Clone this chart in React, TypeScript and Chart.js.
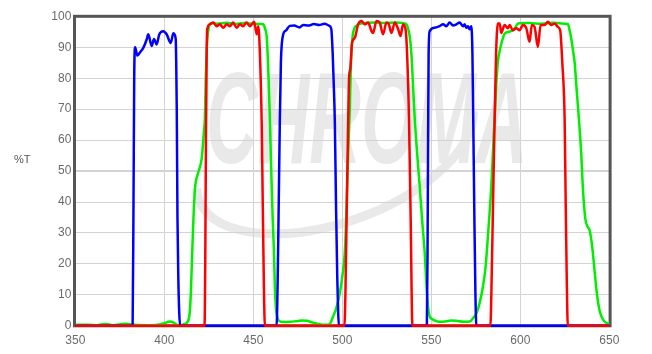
import React, { useEffect, useRef } from "react";
import { Chart, registerables } from "chart.js";

Chart.register(...registerables);

// Wavelength (nm) / transmission (%T) samples
const bluePoints: [number, number][] = [
  [350, 0], [382.2, 0], [382.7, 40], [383.1, 80], [383.6, 90], [384.9, 87.3], [386.5, 88.5],
  [388.2, 89.8], [390.1, 92.5], [391.0, 94.2], [392.9, 90.4], [394.2, 92.7], [395.7, 90.9],
  [397.2, 94.2], [399.4, 95.2], [401.3, 94.2], [403.6, 91.4], [405.1, 94.5], [406.4, 92.7],
  [406.7, 85], [407.0, 70], [407.4, 35], [407.9, 15], [408.4, 4], [408.9, 0],
  [463.1, 0], [463.7, 15], [464.3, 40], [464.9, 66], [465.5, 85], [466.0, 91], [466.8, 94.2],
  [468.5, 95.5], [470.5, 96.9], [473, 97], [476, 96.4], [478, 97.2], [481, 97], [484, 97.5],
  [487, 97.2], [490, 97.6], [492.5, 97], [493.8, 96], [494.6, 88], [495.2, 78], [495.8, 66],
  [496.5, 38], [497.2, 15], [497.7, 4], [498.1, 0],
  [547.5, 0], [547.9, 25], [548.2, 60], [548.5, 88], [549.1, 95.2], [551.9, 96.3], [554.7, 96.8],
  [556.6, 97.4], [558.5, 96.8], [560.3, 98], [562.2, 97], [564.1, 97.4], [565.9, 98],
  [567.8, 96.8], [568.7, 97.4], [569.7, 96.3], [570.6, 96.8], [571.5, 95.8], [572.5, 96.8],
  [573.1, 88], [573.6, 65], [574.2, 35], [574.8, 10], [575.3, 0], [650, 0],
];

const redPoints: [number, number][] = [
  [350, 0], [422.6, 0], [423.0, 20], [423.4, 60], [423.8, 88], [424.1, 95.8], [425.6, 97.4],
  [427.5, 98], [429.4, 96.8], [431.3, 97.4], [433.1, 96.3], [435.0, 97.4], [436.9, 96.8],
  [438.7, 98], [440.6, 96.3], [442.5, 97.4], [444.3, 96.8], [446.2, 98], [448.1, 96.8],
  [450.5, 98.2], [451.9, 94.2], [452.8, 96.8], [453.7, 88], [454.7, 66], [455.3, 40],
  [455.9, 15], [456.5, 0],
  [501.2, 0], [501.8, 12], [502.5, 38], [503.3, 66], [503.8, 80], [504.5, 83], [505.5, 91.5],
  [507.0, 93], [508.9, 97.4], [510.8, 98.5], [512.6, 97.4], [514.5, 98], [516.4, 95.2],
  [517.3, 94.6], [519.2, 98.5], [521.0, 98], [522.9, 94.2], [524.8, 98], [526.1, 97.5],
  [527.6, 94.6], [529.5, 98], [531.3, 96], [532.7, 93.6], [534.1, 97.4], [535.6, 95.5],
  [536.4, 88], [537.5, 66], [538.4, 35], [539.4, 0],
  [583.2, 0], [583.9, 15], [584.7, 40], [585.6, 67], [586.4, 88], [587.4, 97.7], [588.4, 97.7],
  [589.3, 94.6], [591.2, 97.2], [593.0, 96.1], [594.0, 97.2], [595.8, 95.5], [597.8, 96.1],
  [599.6, 95.5], [601.5, 97.2], [603.4, 96.1], [605.2, 91.8], [606.5, 97.2], [608.0, 96.6],
  [609.9, 90.1], [611.4, 97.2], [613.6, 97.2], [615.5, 98.2], [617.4, 97.2], [619.3, 97.7],
  [621.1, 96.6], [622.4, 95.5], [623.6, 85], [624.9, 67], [625.5, 40], [626.1, 15],
  [626.7, 0], [650, 0],
];

const greenPoints: [number, number][] = [
  [350, 0.3], [357, 0.3], [362, 0.2], [367, 0.6], [371, 0.2], [378, 0.7], [383, 0.3],
  [392, 0.2], [398, 0.5], [401, 1.0], [403, 1.4], [405, 1.1], [407, 0.4], [409, 0.2],
  [411, 0.5], [413.3, 1.5], [414.4, 5], [415.0, 12], [415.7, 24], [416.4, 35], [417.2, 44],
  [419.1, 49.5], [421.0, 54], [422.3, 63], [422.8, 67], [423.3, 80], [423.9, 90], [424.7, 95.5],
  [426.6, 97.8], [430, 97.6], [435, 97.9], [440, 97.5], [445, 97.8], [450, 97.6], [455.6, 97.4],
  [456.6, 96], [457.5, 93.5], [458.2, 86], [458.8, 76], [459.3, 67], [460.0, 52], [460.8, 36],
  [461.6, 24], [462.1, 13], [462.7, 6], [463.4, 3], [464.5, 1.6], [467, 1.2], [471, 1.3],
  [474, 1.5], [477, 1.7], [480, 1.6], [483, 1.1], [487, 0.5], [491, 0.3], [493, 0.6],
  [494.8, 3], [496.5, 5.5], [498.6, 10.6], [500, 16], [501.4, 23.6], [502.4, 38], [503.3, 56],
  [504.2, 70], [504.8, 84], [505.9, 94], [508, 97], [512, 97.8], [518, 98], [524, 97.8],
  [530, 98], [536.0, 97.5], [537.2, 95.5], [538.0, 93], [538.8, 88], [539.7, 78], [540.7, 67],
  [542.0, 56], [543.5, 45], [545, 33], [546.3, 23.6], [547.3, 13], [548.2, 6], [549.1, 3],
  [551, 2], [554, 1.3], [558, 1.4], [561, 1.7], [564, 1.6], [568, 1.3], [571.6, 1.4],
  [573.5, 2.5], [575.3, 4], [577, 7], [579, 12.6], [580.5, 19], [581.8, 28.8], [582.8, 37],
  [583.7, 45], [584.4, 53], [585, 61], [585.6, 67], [586.5, 78], [587.4, 85.3], [588.5, 89],
  [589.5, 91.5], [591.2, 94.4], [593.5, 95], [595.8, 95.5], [597.3, 96.5], [598.7, 97.7],
  [605, 97.8], [612, 97.6], [618, 97.9], [623, 97.7], [626.7, 97.5], [627.7, 95.5],
  [628.6, 92.9], [629.6, 89], [630.5, 85.3], [631.7, 76], [632.9, 67], [634.2, 56],
  [635.1, 45], [635.8, 39], [636.6, 34.3], [637.8, 32], [638.9, 31], [639.7, 28.5],
  [640.4, 25.6], [641.7, 18], [643.0, 10.6], [644.5, 5], [645.8, 2.8], [647.3, 1.4], [650, 0.5],
];

const xMin = 350;
const xMax = 650;
const xStep = 50;
const yMin = 0;
const yMax = 100;
const yStep = 10;
const yAxisLabel = "%T";
const watermarkText = "CHROMA";

const FONT = '"Liberation Sans", Arial, Helvetica, sans-serif';

export default function App() {
  const ref = useRef<HTMLCanvasElement>(null);

  useEffect(() => {
    if (!ref.current) return;
    const toXY = (pts: [number, number][]) => pts.map(([x, y]) => ({ x, y }));
    const mk = (label: string, pts: [number, number][], color: string) => ({
      label,
      data: toXY(pts),
      borderColor: color,
      backgroundColor: color,
      borderWidth: 2.5,
      pointRadius: 0,
      fill: false,
      cubicInterpolationMode: "monotone" as const,
      clip: 6,
    });

    const decor = {
      id: "decor",
      beforeDraw(chart: any) {
        const { ctx } = chart;
        ctx.save();
        ctx.fillStyle = "#ffffff";
        ctx.fillRect(0, 0, chart.width, chart.height);
        // watermark
        ctx.fillStyle = "#e9e9e9";
        ctx.strokeStyle = "#e9e9e9";
        ctx.save();
        ctx.translate(206, 163);
        ctx.scale(0.55, 1);
        ctx.font = `italic bold 130px ${FONT}`;
        ctx.textBaseline = "alphabetic";
        ctx.fillText(watermarkText, 0, 0);
        ctx.restore();
        ctx.save();
        ctx.lineWidth = 9;
        ctx.translate(335, 150);
        ctx.rotate(-0.35);
        ctx.beginPath();
        ctx.ellipse(0, 0, 145, 72, 0, 0.05 * Math.PI, 1.05 * Math.PI);
        ctx.stroke();
        ctx.restore();
        ctx.restore();
      },
      beforeDatasetsDraw(chart: any) {
        const { ctx, chartArea: a } = chart;
        ctx.save();
        ctx.strokeStyle = "#555555";
        ctx.lineWidth = 3;
        ctx.strokeRect(a.left - 0.8, a.top, a.right - a.left + 1.6, a.bottom - a.top);
        ctx.restore();
      },
      afterDraw(chart: any) {
        const { ctx } = chart;
        ctx.save();
        ctx.fillStyle = "#555555";
        ctx.font = `11px ${FONT}`;
        ctx.textBaseline = "middle";
        ctx.textAlign = "left";
        ctx.fillText(yAxisLabel, 14, 160);
        ctx.restore();
      },
    };

    const tickColor = "#6a6a6a";
    const gridColor = "#d3d3d3";

    const chart = new Chart(ref.current, {
      type: "line",
      data: {
        datasets: [
          mk("Red", redPoints, "#ff0000"),
          mk("Blue", bluePoints, "#0000ff"),
          mk("Green", greenPoints, "#00ee00"),
        ],
      },
      options: {
        animation: false,
        responsive: false,
        devicePixelRatio: 1,
        layout: { padding: { left: 0, right: 42.7, top: 16.3, bottom: 0 } },
        plugins: { legend: { display: false }, tooltip: { enabled: false } },
        scales: {
          x: {
            type: "linear",
            min: xMin,
            max: xMax,
            afterFit: (s: any) => {
              s.height = 28.2;
            },
            ticks: {
              stepSize: xStep,
              color: tickColor,
              font: { family: FONT, size: 12 },
              padding: 8,
              maxRotation: 0,
              autoSkip: false,
            },
            grid: { color: gridColor, lineWidth: 1, drawTicks: false },
            border: { display: false },
          },
          y: {
            type: "linear",
            min: yMin,
            max: yMax,
            afterFit: (s: any) => {
              s.width = 75.3;
            },
            ticks: {
              stepSize: yStep,
              color: tickColor,
              font: { family: FONT, size: 12 },
              padding: 4,
            },
            grid: {
              color: gridColor,
              lineWidth: (c: any) => (c.tick && c.tick.value === 50 ? 2 : 1),
              drawTicks: false,
            },
            border: { display: false },
          },
        },
      } as any,
      plugins: [decor],
    });
    return () => chart.destroy();
  }, []);

  return (
    <div style={{ position: "absolute", left: 0, top: 0, width: 652, height: 354 }}>
      <canvas ref={ref} width={652} height={354} style={{ display: "block", width: 652, height: 354 }} />
    </div>
  );
}
